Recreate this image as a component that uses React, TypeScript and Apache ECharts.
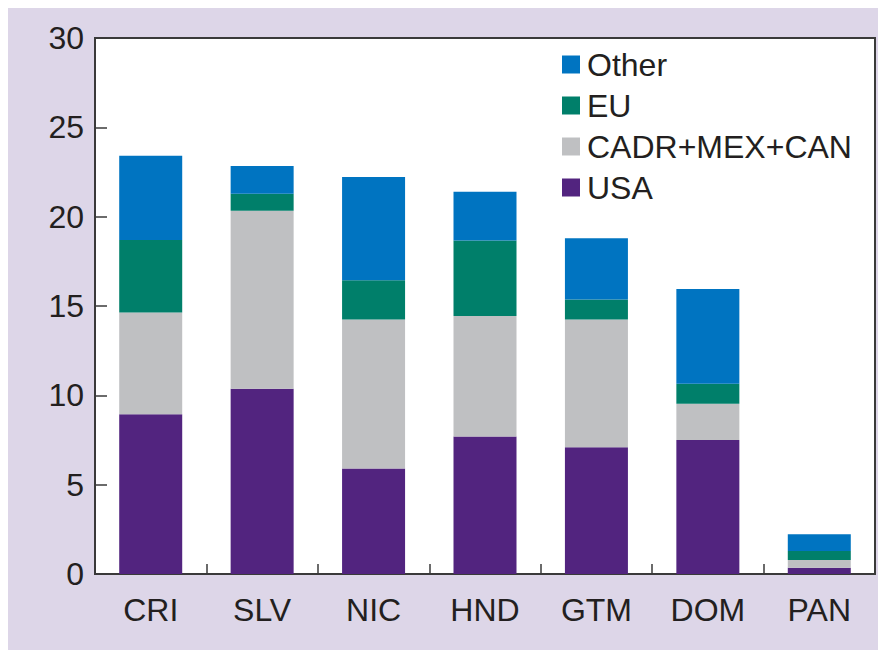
import React, { useEffect, useRef } from "react";
import * as echarts from "echarts";

const categories = ["CRI", "SLV", "NIC", "HND", "GTM", "DOM", "PAN"];
const usa = [8.94, 10.37, 5.91, 7.7, 7.09, 7.5, 0.35];
const cadr = [5.7, 9.96, 8.34, 6.74, 7.16, 2.03, 0.43];
const eu = [4.05, 0.95, 2.19, 4.23, 1.12, 1.12, 0.51];
const other = [4.72, 1.55, 5.78, 2.72, 3.42, 5.3, 0.93];
const yTicks = [0, 5, 10, 15, 20, 25, 30];

const FONT = "'Liberation Sans', Arial, sans-serif";
const TXT = "#231f20";
const FS = 32;

export default function App() {
  const ref = useRef<HTMLDivElement>(null);
  useEffect(() => {
    if (!ref.current) return;
    const chart = echarts.init(ref.current, undefined, { renderer: "svg" });
    const mk = (name: string, data: number[], color: string) => ({
      name,
      type: "bar",
      stack: "total",
      data,
      barWidth: 63,
      itemStyle: { color },
      emphasis: { disabled: true },
    });
    chart.setOption({
      animation: false,
      backgroundColor: "#ffffff",
      textStyle: { fontFamily: FONT },
      graphic: [
        {
          type: "rect",
          z: -100,
          shape: { x: 8, y: 8, width: 870, height: 642 },
          style: { fill: "#ddd6e8" },
        },
      ],
      grid: {
        left: 95,
        right: 3,
        top: 38,
        bottom: 79,
        show: true,
        backgroundColor: "#ffffff",
        borderColor: "#3a3a3a",
        borderWidth: 2,
      },
      legend: {
        orient: "vertical",
        left: 557,
        top: 41,
        itemWidth: 18,
        itemHeight: 18,
        itemGap: 4,
        icon: "rect",
        data: ["Other", "EU", "CADR+MEX+CAN", "USA"],
        textStyle: {
          fontFamily: FONT,
          fontSize: FS,
          lineHeight: 37,
          color: TXT,
          padding: [0, 0, 0, 2],
        },
      },
      xAxis: {
        type: "category",
        data: categories,
        axisLine: { show: true, lineStyle: { color: "#3a3a3a", width: 2 } },
        axisTick: { show: true, inside: true, length: 10, lineStyle: { color: "#3a3a3a", width: 1.5 } },
        axisLabel: { color: TXT, fontSize: FS, fontFamily: FONT, margin: 20 },
      },
      yAxis: {
        type: "value",
        min: yTicks[0],
        max: yTicks[yTicks.length - 1],
        interval: 5,
        splitLine: { show: false },
        axisLine: { show: true, lineStyle: { color: "#3a3a3a", width: 2 } },
        axisTick: { show: true, inside: true, length: 12, lineStyle: { color: "#3a3a3a", width: 1.5 } },
        axisLabel: { color: TXT, fontSize: FS, fontFamily: FONT, margin: 11 },
      },
      series: [
        mk("USA", usa, "#52247f"),
        mk("CADR+MEX+CAN", cadr, "#bfc0c2"),
        mk("EU", eu, "#007f6a"),
        mk("Other", other, "#0074c1"),
      ],
    });
    return () => chart.dispose();
  }, []);
  return (
    <div
      ref={ref}
      style={{ position: "absolute", left: 0, top: 0, width: 878, height: 653 }}
    />
  );
}
